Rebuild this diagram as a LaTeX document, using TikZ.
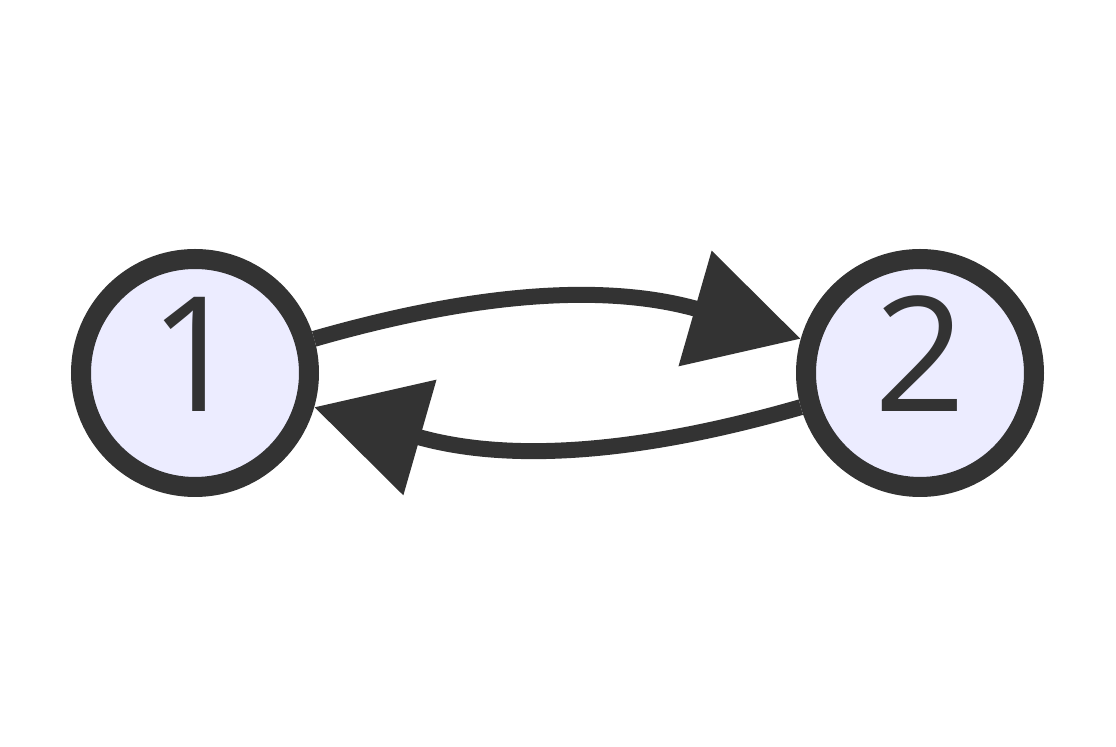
\documentclass[tikz,border=0pt]{standalone}
\usepackage{fontspec}
\setmainfont{Open Sans}
\usetikzlibrary{arrows.meta}
\definecolor{ink}{HTML}{333333}
\definecolor{lav}{HTML}{ECECFF}
\newcommand{\lift}[1]{\raisebox{19pt}{#1}}

\begin{document}
\begin{tikzpicture}[
  x=0.5pt, y=-0.5pt, >=Latex,
  every node/.style={font=\fontsize{80}{80}\selectfont},
  state/.style={draw=ink, circle, line width=10pt, fill=lav, text=ink,
                minimum size=114pt, inner sep=0pt},
  edge/.style={draw=ink, line width=8pt,
               -{Triangle[length=55pt, width=58pt]}}
]
  \useasboundingbox (0,0) rectangle (1116,747);
  % states
  \node[state] (n1) at (195,373) {\lift{1}};
  \node[state] (n2) at (920,373) {\lift{2}};
  % transitions
  \draw[edge] (n1) to[bend left=16] (n2);
  \draw[edge] (n2) to[bend left=16] (n1);
\end{tikzpicture}
\end{document}
